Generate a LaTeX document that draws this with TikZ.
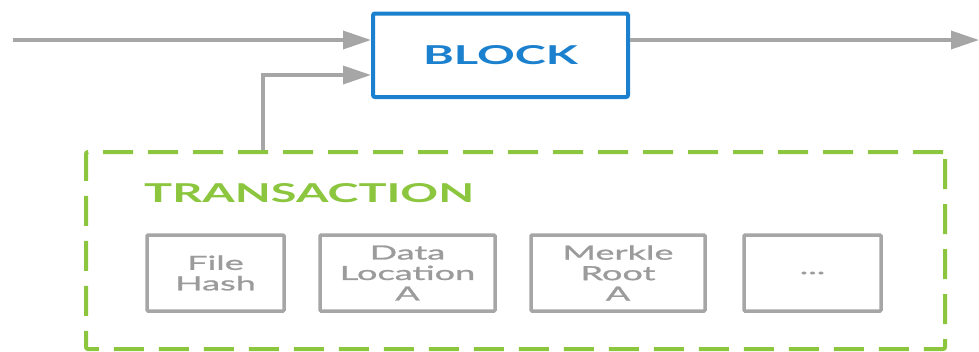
\documentclass[tikz,border=0pt]{standalone}
\usepackage{fontspec}
\setmainfont{Lato}
\newfontfamily\wide{Lato}[FakeStretch=1.8]
\newfontfamily\widemed{Lato}[FakeStretch=1.85,FakeBold=1.2]
\usetikzlibrary{arrows.meta}
\definecolor{blkblue}{HTML}{1B80CE}
\definecolor{txgreen}{HTML}{8CC63F}
\definecolor{lgray}{HTML}{A6A6A6}
\definecolor{tgray}{HTML}{9B9B9B}
\tikzset{
  arr/.style={draw=lgray, line width=3.5pt, -{Triangle[length=28pt,width=18pt]}},
  blockbox/.style={draw=blkblue, line width=4pt, rounded corners=2pt, minimum width=255pt, minimum height=83.5pt, inner sep=0pt,
    font=\wide\bfseries\fontsize{26}{28}\selectfont, text=blkblue},
  txbox/.style={draw=txgreen, line width=4pt, dash pattern=on 30pt off 15pt, rounded corners=2pt, minimum width=859pt, minimum height=197pt, inner sep=0pt},
  title/.style={font=\wide\bfseries\fontsize{26}{28}\selectfont, text=txgreen, inner sep=0pt},
  fieldbox/.style={draw=lgray, line width=3.5pt, rounded corners=1pt, minimum height=76pt, inner sep=0pt, align=center,
    font=\widemed\fontsize{19.5}{20.5}\selectfont, text=tgray},
}
\begin{document}
\begin{tikzpicture}[x=1pt,y=-1pt]
\useasboundingbox (0,0) rectangle (979,351);
\node[blockbox] (blk) at (500.5,55.25) {BLOCK};
\node[txbox] (tx) at (515.5,250.5) {};
\node[title, anchor=base west] (ttl) at (144,202) {TRANSACTION};
\node[fieldbox, minimum width=137pt] (f1) at (215.5,273) {File\\Hash};
\node[fieldbox, minimum width=175pt] (f2) at (407.5,273) {Data\\Location\\A};
\node[fieldbox, minimum width=174pt] (f3) at (618,273) {Merkle\\Root\\A};
\node[fieldbox, minimum width=137pt] (f4) at (812.5,273) {...};
\coordinate (in1) at (13,40);
\coordinate (out1) at (979,40);
\coordinate (up1) at (263,75);
\draw[arr] (in1) -- (in1 -| blk.west);
\draw[arr] (out1 -| blk.east) -- (out1);
\draw[arr] (tx.north -| up1) -- (up1) -- (up1 -| blk.west);
\end{tikzpicture}
\end{document}
